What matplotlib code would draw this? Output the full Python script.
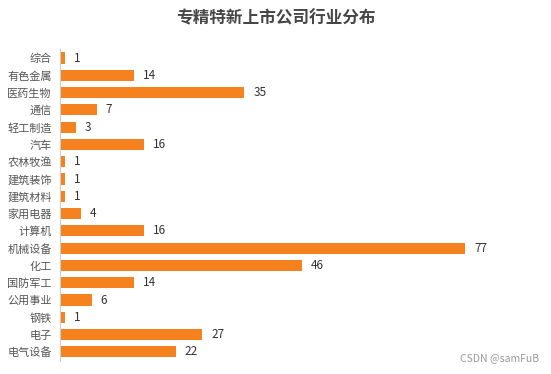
import matplotlib.pyplot as plt

plt.rcParams['font.family'] = ['Noto Sans CJK SC', 'DejaVu Sans']

# industries, top to bottom as shown
industries = ['综合', '有色金属', '医药生物', '通信', '轻工制造', '汽车', '农林牧渔',
              '建筑装饰', '建筑材料', '家用电器', '计算机', '机械设备', '化工',
              '国防军工', '公用事业', '钢铁', '电子', '电气设备']
counts = [1, 14, 35, 7, 3, 16, 1, 1, 1, 4, 16, 77, 46, 14, 6, 1, 27, 22]

fig = plt.figure(figsize=(5.51, 3.74), dpi=100)
ax = fig.add_axes([0.109, 0.036, 0.764, 0.832])

ypos = list(range(len(industries)))
ax.barh(ypos, counts, height=0.64, color='#F5821F')
for y, v in zip(ypos, counts):
    ax.annotate(str(v), (v, y), xytext=(6.5, 0), textcoords='offset points',
                va='center', ha='left', fontsize=8.5, color='#333333')

ax.set_yticks(ypos)
ax.set_yticklabels(industries, fontsize=8, color='#555555')
ax.set_ylim(len(industries) - 0.5, -0.5)
ax.set_xlim(0, 80)
ax.set_xticks([])
ax.tick_params(axis='y', length=0, pad=6)
for side in ['top', 'right', 'bottom']:
    ax.spines[side].set_visible(False)
ax.spines['left'].set_color('#cccccc')

fig.text(0.5, 0.952, '专精特新上市公司行业分布', ha='center', va='center',
         fontsize=12, fontweight='bold', color='#464646')
fig.text(0.978, 0.043, 'CSDN @samFuB', ha='right', va='center',
         fontsize=7.5, color='#999999')

fig.savefig('out.png', dpi=100)
